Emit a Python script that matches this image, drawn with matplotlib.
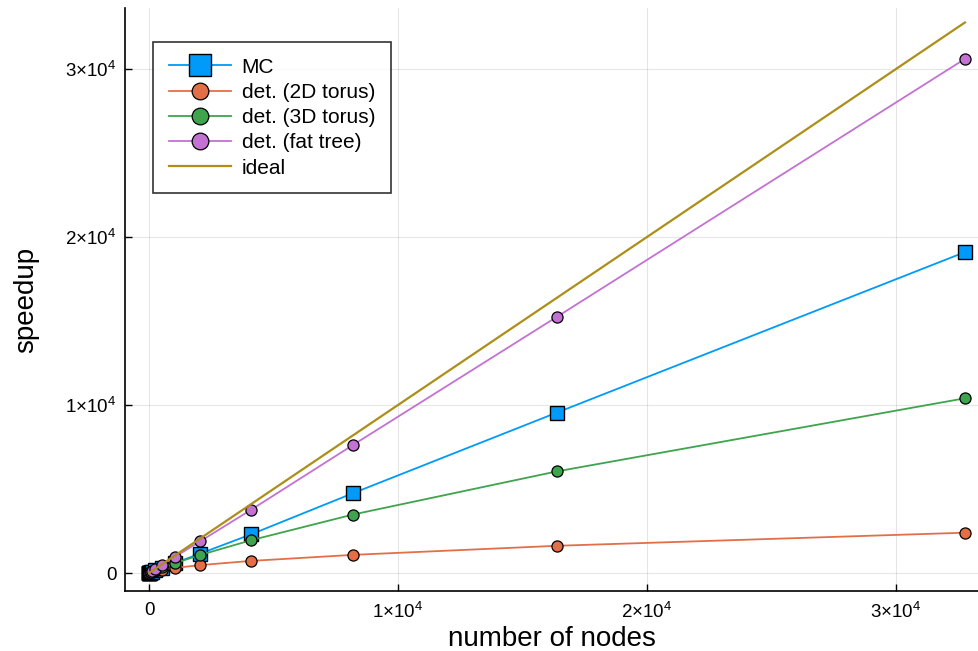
import matplotlib
matplotlib.use("Agg")
import matplotlib.pyplot as plt
from matplotlib.ticker import FuncFormatter

plt.rcParams["font.family"] = ["Liberation Sans", "DejaVu Sans"]
plt.rcParams["mathtext.fontset"] = "custom"
plt.rcParams["mathtext.rm"] = "Liberation Sans"
plt.rcParams["mathtext.it"] = "Liberation Sans"
plt.rcParams["mathtext.bf"] = "Liberation Sans"

nodes = [1, 2, 4, 8, 16, 32, 64, 128, 256, 512, 1024, 2048, 4096, 8192, 16384, 32768]
mc = [1, 1.9, 3.6, 6.8, 12, 22, 40, 76, 150, 300, 590, 1150, 2300, 4750, 9550, 19100]
torus2d = [1, 1.9, 3.7, 7, 13, 24, 43, 75, 125, 200, 300, 470, 720, 1080, 1620, 2400]
torus3d = [1, 2, 3.9, 7.5, 14.5, 28, 54, 102, 190, 340, 580, 1070, 1950, 3480, 6050, 10400]
fattree = [1, 2, 4, 8, 16, 31, 62, 124, 245, 485, 950, 1880, 3760, 7620, 15250, 30600]
ideal = nodes

blue, orange, green, purple, gold = "#009AFA", "#E36F47", "#3EA44E", "#C371D2", "#AC8E18"

fig = plt.figure(figsize=(9.79, 6.51), dpi=100)
ax = fig.add_axes([125 / 979, 60 / 651, 854 / 979, 583 / 651])

ax.plot(nodes, mc, color=blue, marker="s", ms=10.5, mec="black", mew=1.0, lw=1.3, label="MC")
ax.plot(nodes, torus2d, color=orange, marker="o", ms=8, mec="black", mew=0.9, lw=1.3, label="det. (2D torus)")
ax.plot(nodes, torus3d, color=green, marker="o", ms=8, mec="black", mew=0.9, lw=1.3, label="det. (3D torus)")
ax.plot(nodes, fattree, color=purple, marker="o", ms=8, mec="black", mew=0.9, lw=1.3, label="det. (fat tree)")
ax.plot(nodes, ideal, color=gold, lw=1.6, label="ideal")

ax.set_xlim(-964, 33333)
ax.set_ylim(-1071, 33630)


def sci(v, pos):
    if v == 0:
        return "0"
    return r"$%d{\times}10^{4}$" % round(v / 1e4)


ticks = [0, 10000, 20000, 30000]
ax.set_xticks(ticks)
ax.set_yticks(ticks)
ax.xaxis.set_major_formatter(FuncFormatter(sci))
ax.yaxis.set_major_formatter(FuncFormatter(sci))
ax.tick_params(direction="in", length=5, width=1, labelsize=13.5, pad=6)
ax.tick_params(axis="x", pad=8)
ax.grid(True, color="#000000", alpha=0.1, lw=0.8)
ax.set_axisbelow(True)
for s in ["top", "right"]:
    ax.spines[s].set_visible(False)
for s in ["left", "bottom"]:
    ax.spines[s].set_linewidth(1.2)

ax.set_xlabel("number of nodes", fontsize=20, labelpad=3)
ax.set_ylabel("speedup", fontsize=20, labelpad=19)

leg = ax.legend(loc="upper left", bbox_to_anchor=(28 / 854, 1 - 34 / 583), fontsize=15,
                frameon=True, fancybox=False, edgecolor="black", handlelength=3.0,
                markerscale=1.5, borderpad=0.75, labelspacing=0.3, handletextpad=0.5,
                borderaxespad=0)
leg.get_frame().set_linewidth(1.2)

fig.savefig("out.png", dpi=100)
